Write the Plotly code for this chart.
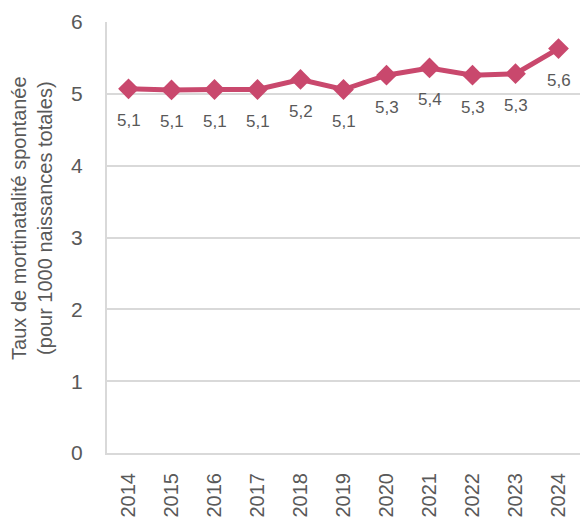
import plotly.graph_objects as go

years = ["2014", "2015", "2016", "2017", "2018", "2019", "2020", "2021", "2022", "2023", "2024"]
rates = [5.07, 5.055, 5.06, 5.06, 5.20, 5.06, 5.26, 5.36, 5.26, 5.28, 5.63]
y_ticks = [0, 1, 2, 3, 4, 5, 6]

LINE_COLOR = "#C9486D"
TEXT_COLOR = "#595959"
GRID_COLOR = "#D9D9D9"
FONT = "Liberation Sans, Arial, sans-serif"

fig = go.Figure()
fig.add_trace(go.Scatter(
    x=years, y=rates, mode="lines+markers",
    line=dict(color=LINE_COLOR, width=5),
    marker=dict(symbol="diamond", size=16, color=LINE_COLOR),
    hoverinfo="skip", showlegend=False,
))

for i, v in enumerate(rates):
    fig.add_annotation(
        x=i, y=v, xref="x", yref="y",
        text=f"{v:.1f}".replace(".", ","),
        showarrow=False, yshift=-32,
        font=dict(family=FONT, size=17, color=TEXT_COLOR),
    )

fig.add_annotation(
    x=-0.159, y=0.545, xref="paper", yref="paper",
    xanchor="center", yanchor="middle",
    text="Taux de mortinatalité spontanée<br>(pour 1000 naissances totales)",
    textangle=-90, showarrow=False,
    font=dict(family=FONT, size=20, color=TEXT_COLOR),
)

fig.update_layout(
    width=581, height=523,
    margin=dict(l=107, r=1, t=22, b=70),
    paper_bgcolor="white", plot_bgcolor="white",
    font=dict(family=FONT, color=TEXT_COLOR),
    xaxis=dict(
        type="category", range=[-0.5, 10.5],
        tickangle=-90, tickfont=dict(family=FONT, size=20, color=TEXT_COLOR),
        showgrid=False, showline=True, linecolor=GRID_COLOR, linewidth=2,
        ticks="", ticklabelstandoff=10,
    ),
    yaxis=dict(
        range=[0, 6], tickvals=y_ticks,
        tickfont=dict(family=FONT, size=21, color=TEXT_COLOR),
        showgrid=True, gridcolor=GRID_COLOR, gridwidth=2,
        showline=True, linecolor=GRID_COLOR, linewidth=2,
        zeroline=False, ticks="", ticklabelstandoff=18,
    ),
)

fig.write_html(
    "out.html",
    config={"displayModeBar": False},
    post_script="document.body.style.margin='0';document.body.style.overflow='hidden';",
)
